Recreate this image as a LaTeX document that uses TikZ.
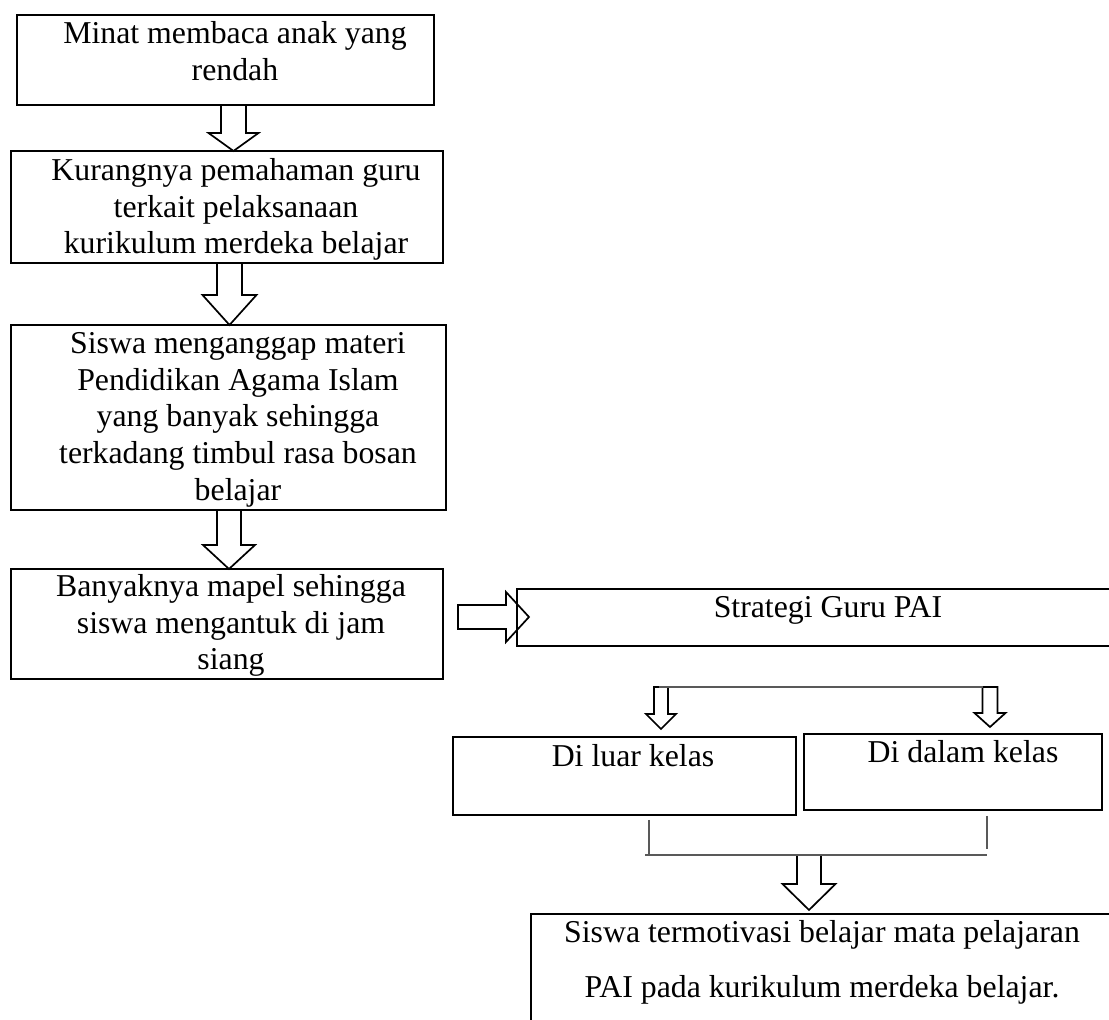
\documentclass[tikz,border=0pt]{standalone}
\usepackage{fontspec}
\setmainfont{Liberation Serif}
\usetikzlibrary{fit}
\newcommand{\blockdown}[6]{\draw[barrow] (#1-#5,#2) -- (#1+#5,#2) -- (#1+#5,#3) -- (#1+#6,#3) -- (#1,#4) -- (#1-#6,#3) -- (#1-#5,#3) -- cycle;}
\newcommand{\blockright}[6]{\draw[barrow] (#2,#1-#5) -- (#3,#1-#5) -- (#3,#1-#6) -- (#4,#1) -- (#3,#1+#6) -- (#3,#1+#5) -- (#2,#1+#5) -- cycle;}
\begin{document}
\begin{tikzpicture}[x=0.5pt,y=-0.5pt,
  box/.style={draw=black, line width=1.1pt, inner sep=0pt},
  txt/.style={inner sep=0pt, align=center, font=\fontsize{15.9}{18.35}\selectfont},
  widetxt/.style={inner sep=0pt, align=center, font=\fontsize{15.9}{27.5}\selectfont},
  barrow/.style={draw=black, line width=0.85pt, fill=white, line join=miter},
  thinline/.style={draw=black!65, line width=0.75pt}]
\clip (0,0) rectangle (1109,1020);
\fill[white] (0,0) rectangle (1109,1020);

% block arrows
\blockdown{233.5}{105}{133}{151}{12.5}{25}
\blockdown{229.5}{263}{295}{325}{12.5}{27}
\blockdown{229}{510}{545}{569}{12}{26}
\blockright{617}{458}{506}{529}{12}{25}
\blockdown{661}{687}{714}{729}{7}{15}
\blockdown{990}{687}{713}{727}{7.5}{15.5}
\blockdown{809}{855}{884}{910}{12}{26.5}

% boxes
\node[box, fit={(17,15) (434,105)}] (b1) {};
\node[box, fit={(11,151) (443,263)}] (b2) {};
\node[box, fit={(11,325) (446,510)}] (b3) {};
\node[box, fit={(11,569) (443,679)}] (b4) {};
\node[box, fit={(517,589) (1130,646)}] (bs) {};
\node[box, fit={(453,737) (796,815)}] (bl) {};
\node[box, fit={(804,734) (1102,810)}] (br) {};
\node[box, fit={(531,914) (1130,1040)}] (bf) {};

% texts
\node[txt, anchor=north] (t1) at (235,17.3) {\strut Minat membaca anak yang\\\strut rendah};
\node[txt, anchor=north] (t2) at (236,154.3) {\strut Kurangnya pemahaman guru\\\strut terkait pelaksanaan\\\strut kurikulum merdeka belajar};
\node[txt, anchor=north] (t3) at (238,327.3) {\strut Siswa menganggap materi\\\strut Pendidikan Agama Islam\\\strut yang banyak sehingga\\\strut terkadang timbul rasa bosan\\\strut belajar};
\node[txt, anchor=north] (t4) at (231,570.3) {\strut Banyaknya mapel sehingga\\\strut siswa mengantuk di jam\\\strut siang};
\node[txt, anchor=base] (ts) at (828,618) {Strategi Guru PAI};
\node[txt, anchor=base] (tl) at (633,767) {Di luar kelas};
\node[txt, anchor=base] (tr) at (963,763) {Di dalam kelas};
\node[widetxt, anchor=north] (tf) at (822,903.5) {\strut Siswa termotivasi belajar mata pelajaran\\\strut PAI pada kurikulum merdeka belajar.};

% branch connectors
\coordinate (brL) at (659,687);
\coordinate (brR) at (983,687);
\draw[thinline] (brL) -- (brR);
\coordinate (lvTop) at (649,820);
\coordinate (lvBot) at (649,855);
\coordinate (rvTop) at (987,816);
\coordinate (rvBot) at (987,849);
\coordinate (hL) at (645,855);
\coordinate (hR) at (987,855);
\draw[thinline] (lvTop) -- (lvBot);
\draw[thinline] (rvTop) -- (rvBot);
\draw[thinline] (hL) -- (hR);
\end{tikzpicture}
\end{document}
